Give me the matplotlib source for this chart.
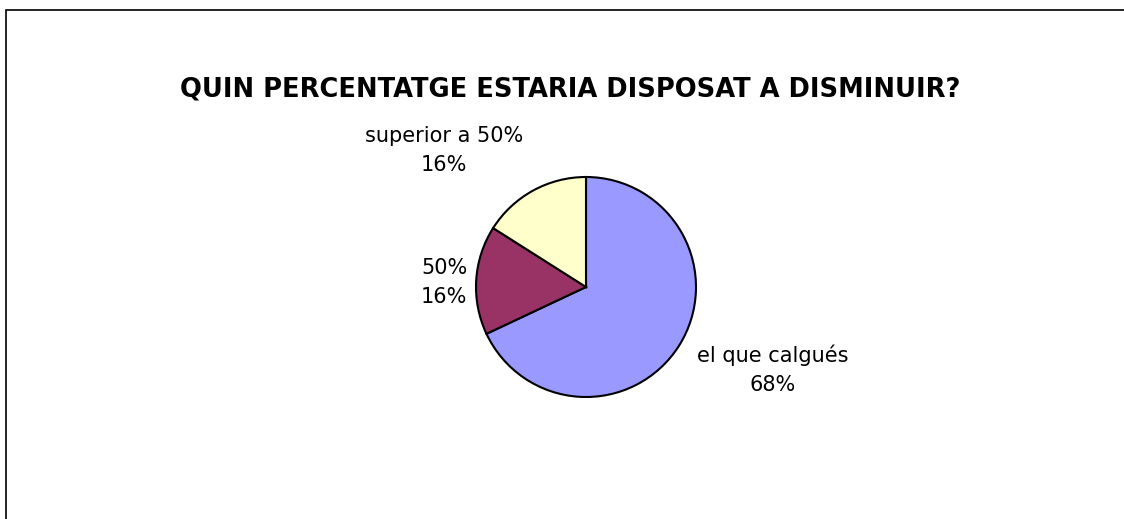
import matplotlib.pyplot as plt
from matplotlib.patches import Rectangle

# chart data
labels = ["el que calgués", "50%", "superior a 50%"]
shares = [68, 16, 16]
colors = ["#9999FF", "#993366", "#FFFFCC"]

# where each label sits (pie radius = 1)
label_pos = [(1.70, -0.75), (-1.29, 0.04), (-1.29, 1.24)]

# the original text is drawn wide, DejaVu is the closest match
plt.rcParams["font.family"] = ["DejaVu Sans"]

W, H = 1124, 519
fig = plt.figure(figsize=(W / 100, H / 100), dpi=100)

# pie centre at (586, 287) px, radius 110 px
cx, cy, r = 586, 287, 110
ax = fig.add_axes([(cx - r) / W, (H - cy - r) / H, 2 * r / W, 2 * r / H])
wedges, _ = ax.pie(shares, colors=colors, startangle=90, counterclock=False,
                   radius=1, wedgeprops={"edgecolor": "black", "linewidth": 1.5})
ax.set_xlim(-1, 1)
ax.set_ylim(-1, 1)
ax.set_aspect("equal")
ax.axis("off")

for name, val, (x, y) in zip(labels, shares, label_pos):
    ax.text(x, y, f"{name}\n{val}%", ha="center", va="center",
            fontsize=15, linespacing=1.55, clip_on=False)

fig.text(570 / W, 1 - 90 / H, "QUIN PERCENTATGE ESTARIA DISPOSAT A DISMINUIR?",
         ha="center", va="center", fontsize=18.5, fontweight="bold")

# outer frame (only top and left edges fall inside the image)
fig.patches.append(Rectangle((6 / W, -0.1), 2, 1 - 10 / H + 0.1,
                             transform=fig.transFigure, fill=False,
                             edgecolor="black", linewidth=1.2))

fig.savefig("out.png", dpi=100)
